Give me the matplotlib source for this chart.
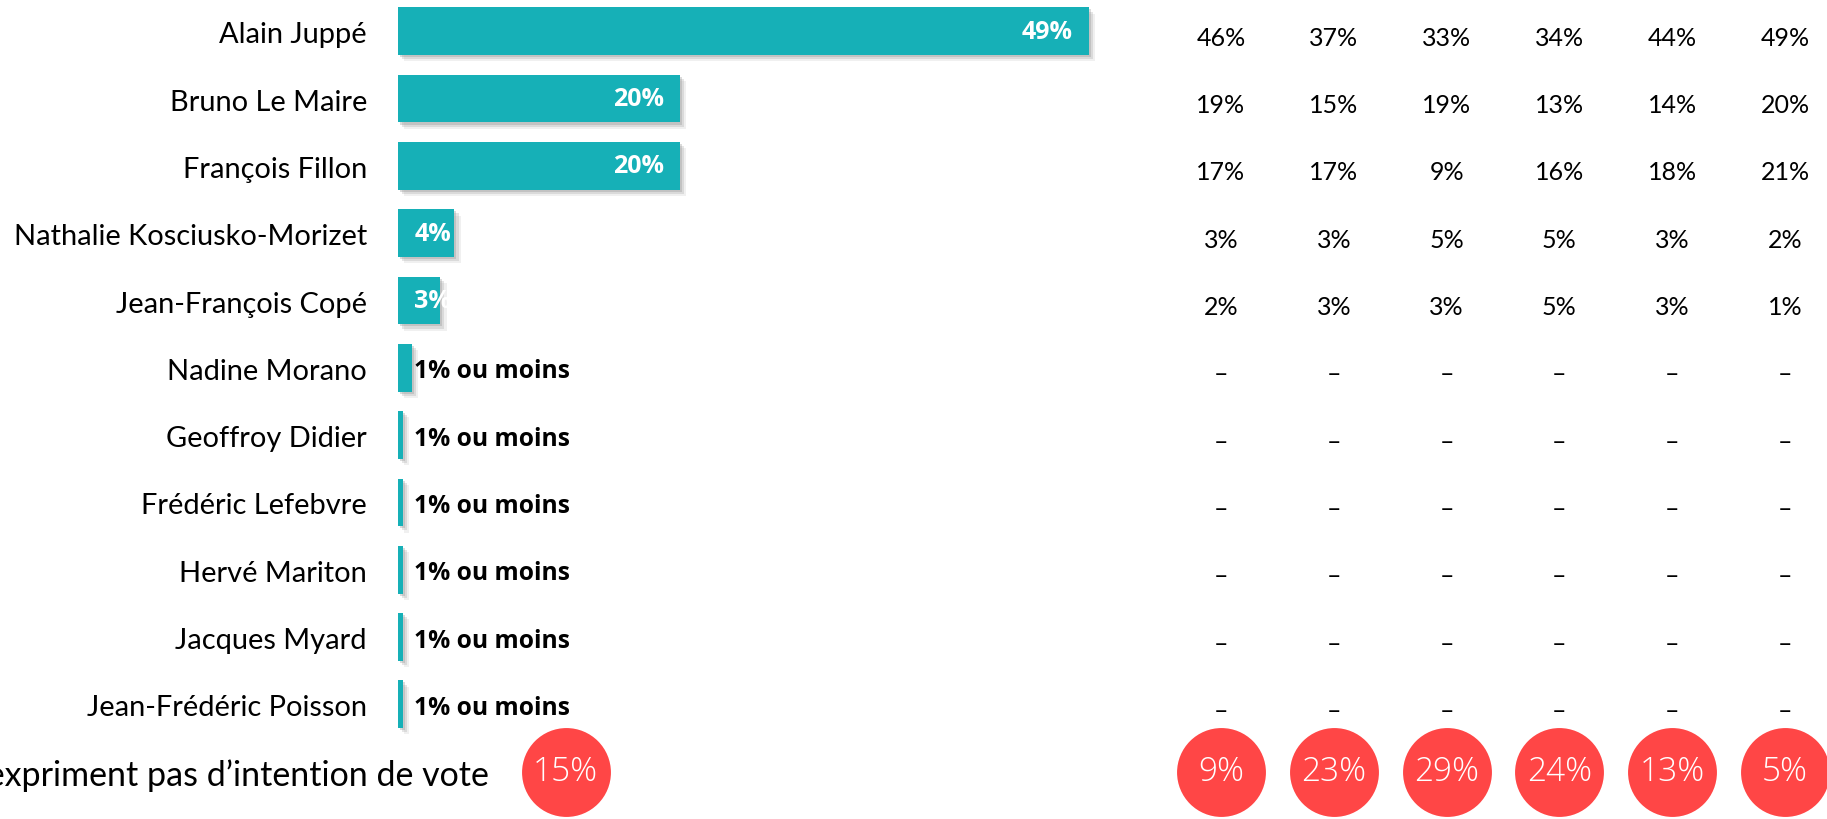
import matplotlib as mpl
mpl.use('Agg')
from matplotlib import pyplot as plt
from matplotlib import patheffects as pe

# -- données --
candidates = ["Alain Juppé", "Bruno Le Maire", "François Fillon",
              "Nathalie Kosciusko-Morizet", "Jean-François Copé",
              "Nadine Morano", "Geoffroy Didier", "Frédéric Lefebvre",
              "Hervé Mariton", "Jacques Myard", "Jean-Frédéric Poisson"]
scores = [49, 20, 20, 4, 3, 1, 0.35, 0.35, 0.35, 0.35, 0.35]
score_labels = ["49%", "20%", "20%", "4%", "3%", "1% ou moins", "1% ou moins",
                "1% ou moins", "1% ou moins", "1% ou moins", "1% ou moins"]

# colonnes de droite (une liste par colonne)
col1 = ["46%", "19%", "17%", "3%", "2%", "–", "–", "–", "–", "–", "–"]
col2 = ["37%", "15%", "17%", "3%", "3%", "–", "–", "–", "–", "–", "–"]
col3 = ["33%", "19%", "9%", "5%", "3%", "–", "–", "–", "–", "–", "–"]
col4 = ["34%", "13%", "16%", "5%", "5%", "–", "–", "–", "–", "–", "–"]
col5 = ["44%", "14%", "18%", "3%", "3%", "–", "–", "–", "–", "–", "–"]
col6 = ["49%", "20%", "21%", "2%", "1%", "–", "–", "–", "–", "–", "–"]

no_vote_label = "Ne s’expriment pas d’intention de vote"
no_vote_total = 15
no_vote_cols = [9, 23, 29, 24, 13, 5]

TEAL = "#16b0b7"
RED = "#ff4646"


def main():
    fig = plt.figure(figsize=(18.27, 8.2), dpi=100)

    # axe principal : x en %, y en rangs
    ax = fig.add_axes([0, 0, 1, 1])
    px_per_pct = 14.1
    row_h = 67.3
    top = 32.3
    ax.set_xlim(-398 / px_per_pct, (1827 - 398) / px_per_pct)
    ax.set_ylim((820 - top) / row_h, -top / row_h)
    ax.axis('off')

    rows = list(range(len(candidates)))
    shadow = [pe.SimplePatchShadow(offset=(1.5, -1.5), shadow_rgbFace='#707070', alpha=0.25),
              pe.SimplePatchShadow(offset=(3, -3), shadow_rgbFace='#808080', alpha=0.2),
              pe.SimplePatchShadow(offset=(4.5, -4.5), shadow_rgbFace='#a0a0a0', alpha=0.15),
              pe.Normal()]
    bars = ax.barh(rows, scores, height=0.71, color=TEAL, zorder=2)
    for b in bars:
        b.set_path_effects(shadow)

    dy = 0.045  # petit décalage vertical du texte
    lab_font = dict(family=['Lato', 'DejaVu Sans'], fontsize=20.9, color='black')
    for i, name in enumerate(candidates):
        ax.text(-2.2, i + dy, name, ha='right', va='center', **lab_font)

    for i, (v, s) in enumerate(zip(scores, score_labels)):
        if v >= 10:
            ax.text(v - 1.15, i, s, ha='right', va='center', color='white',
                    fontsize=18, fontweight='bold', family='Open Sans', zorder=3)
        elif v >= 2:
            ax.text(1.15, i, s, ha='left', va='center', color='white',
                    fontsize=18, fontweight='bold', family='Open Sans', zorder=3)
        else:
            ax.text(1.1, i + dy, s, ha='left', va='center', color='black',
                    fontsize=17.7, fontweight='bold', family='Open Sans', zorder=3)

    last = len(candidates)
    ax.text(6.45, last + dy, no_vote_label, ha='right', va='center',
            family=['Lato', 'DejaVu Sans'], fontsize=24.5, color='black')
    ax.scatter([11.9], [last], s=64**2, color=RED, linewidths=0, zorder=2, clip_on=False)
    circ_font = dict(family=['Open Sans', 'DejaVu Sans'], fontweight='light', fontsize=24, color='white')
    ax.text(11.9, last, "%d%%" % no_vote_total, ha='center', va='center', zorder=3, **circ_font)

    # -- tableau de droite --
    ax2 = fig.add_axes([0, 0, 1, 1], label='table')
    col_w = 112.8
    ax2.set_xlim(-1221 / col_w, (1827 - 1221) / col_w)
    ax2.set_ylim(ax.get_ylim())
    ax2.axis('off')

    cols = [col1, col2, col3, col4, col5, col6]
    for j, col in enumerate(cols):
        for i, s in enumerate(col):
            if s == "–":
                ax2.text(j, i + 0.09, s, ha='center', va='center', fontsize=18,
                         family=['Lato', 'DejaVu Sans'], color='black')
            else:
                ax2.text(j, i + 0.09, s, ha='center', va='center', fontsize=18,
                         family=['Lato', 'DejaVu Sans'], color='black')

    ax2.scatter(range(len(no_vote_cols)), [last] * len(no_vote_cols), s=64**2,
                color=RED, linewidths=0, zorder=2, clip_on=False)
    for j, v in enumerate(no_vote_cols):
        ax2.text(j, last, "%d%%" % v, ha='center', va='center', zorder=3, **circ_font)

    plt.savefig("out.png", dpi=100)


if __name__ == "__main__":
    main()
